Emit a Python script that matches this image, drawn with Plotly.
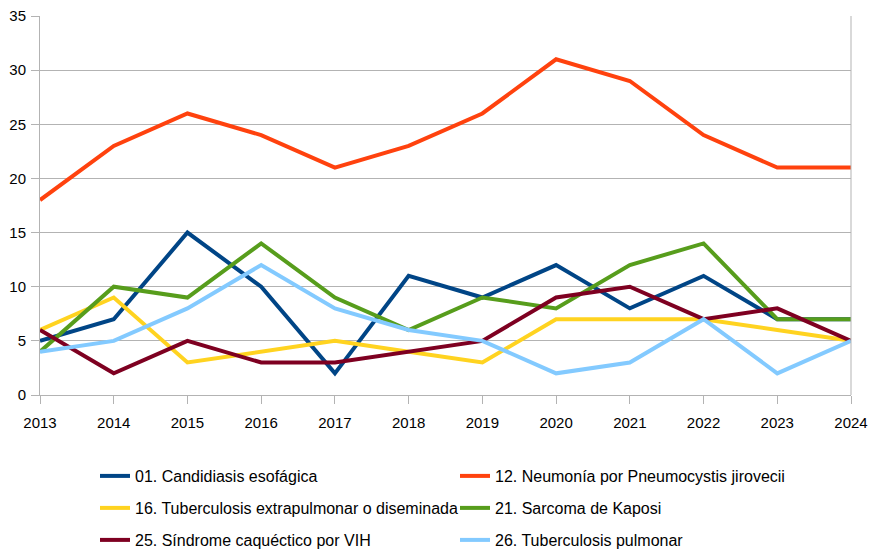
import plotly.graph_objects as go

years = [2013, 2014, 2015, 2016, 2017, 2018, 2019, 2020, 2021, 2022, 2023, 2024]

candidiasis = [5, 7, 15, 10, 2, 11, 9, 12, 8, 11, 7, 7]
neumonia = [18, 23, 26, 24, 21, 23, 26, 31, 29, 24, 21, 21]
tb_extrapulmonar = [6, 9, 3, 4, 5, 4, 3, 7, 7, 7, 6, 5]
sarcoma = [4, 10, 9, 14, 9, 6, 9, 8, 12, 14, 7, 7]
sindrome = [6, 2, 5, 3, 3, 4, 5, 9, 10, 7, 8, 5]
tb_pulmonar = [4, 5, 8, 12, 8, 6, 5, 2, 3, 7, 2, 5]

series = [
    ("01. Candidiasis esofágica", candidiasis, "#004586", "legend"),
    ("12. Neumonía por Pneumocystis jirovecii", neumonia, "#ff420e", "legend"),
    ("16. Tuberculosis extrapulmonar o diseminada", tb_extrapulmonar, "#ffd320", "legend2"),
    ("21. Sarcoma de Kaposi", sarcoma, "#579d1c", "legend2"),
    ("25. Síndrome caquéctico por VIH", sindrome, "#7e0021", "legend3"),
    ("26. Tuberculosis pulmonar", tb_pulmonar, "#83caff", "legend3"),
]

FONT = "Liberation Sans"
W, H = 869, 550

fig = go.Figure()
for name, vals, color, lg in series:
    fig.add_trace(go.Scatter(x=years, y=vals, name=name, mode="lines",
                             legend=lg, line=dict(color=color, width=4)))

def leg(ypix):
    return dict(orientation="h", x=95 / W, xref="container",
                y=1 - ypix / H, yref="container",
                xanchor="left", yanchor="middle",
                entrywidth=315, entrywidthmode="pixels",
                font=dict(family=FONT, size=16, color="#000000"),
                bgcolor="rgba(0,0,0,0)", borderwidth=0)

fig.update_layout(
    width=W, height=H,
    margin=dict(l=40, r=18, t=16, b=155, autoexpand=False),
    paper_bgcolor="white", plot_bgcolor="white",
    font=dict(family=FONT, size=15, color="#000000"),
    showlegend=True,
    legend=leg(476),
    legend2=leg(508),
    legend3=leg(540),
    xaxis=dict(range=[2013, 2024], tickmode="array", tickvals=years,
               ticktext=[str(y) for y in years], showgrid=False,
               showline=True, linecolor="#b3b3b3", linewidth=1,
               ticks="outside", ticklen=8, tickcolor="#b3b3b3", zeroline=False,
               ticklabelstandoff=6, automargin=False, ticklabeloverflow="allow"),
    yaxis=dict(range=[0, 35], dtick=5, showgrid=True, gridcolor="#b3b3b3",
               gridwidth=1, showline=True, linecolor="#b3b3b3", linewidth=1,
               ticks="outside", ticklen=8, tickcolor="#b3b3b3", zeroline=False,
               ticklabelstandoff=2, automargin=False, ticklabeloverflow="allow"),
)
fig.add_shape(type="line", xref="paper", yref="paper", x0=1, x1=1, y0=0, y1=1,
              line=dict(color="#b3b3b3", width=1))

# remove the browser's default 8px page margin so the figure fills the window
fig.write_html("out.html",
               config={"displayModeBar": False},
               post_script="document.body.style.margin='0';"
                           "document.body.style.overflow='hidden';")
